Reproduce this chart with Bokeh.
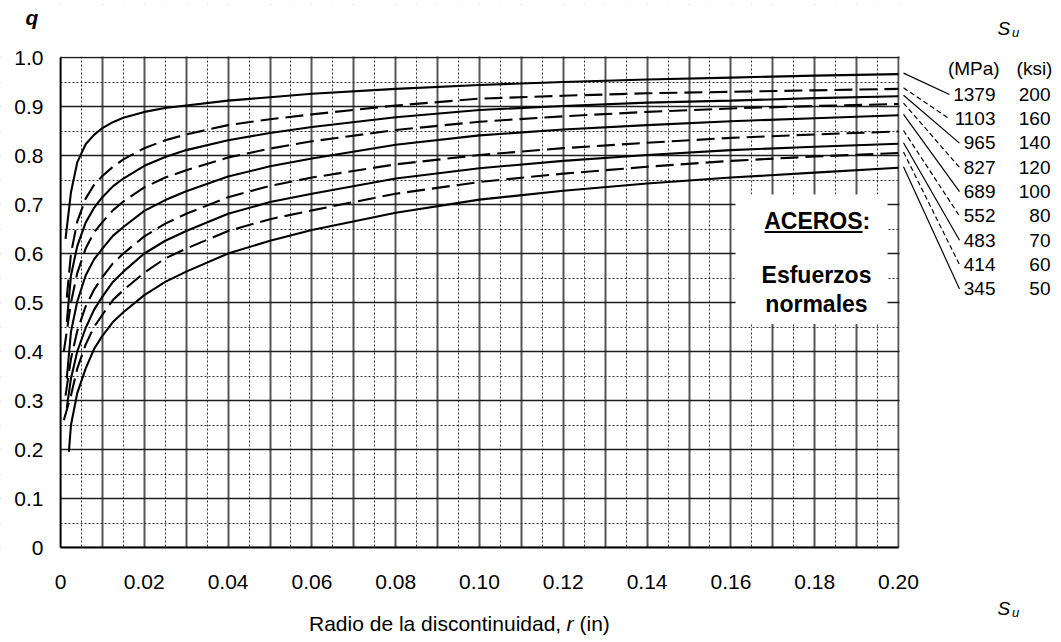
from bokeh.plotting import figure
from bokeh.models import FixedTicker, BoxAnnotation, Label, Arrow
from bokeh.embed import file_html
from bokeh.resources import INLINE

# ---------------- data ----------------
r_pts = [0.0025, 0.004, 0.006, 0.008, 0.01, 0.0125, 0.015, 0.02, 0.025, 0.03,
         0.04, 0.05, 0.06, 0.08, 0.10, 0.12, 0.14, 0.16, 0.18, 0.20]

su_mpa = ["1379", "1103", "965", "827", "689", "552", "483", "414", "345"]
su_ksi = ["200", "160", "140", "120", "100", "80", "70", "60", "50"]
dashed = [False, True, False, True, False, True, False, True, False]

r_start = [0.0012, 0.0015, 0.0015, 0.0008, 0.0015, 0.0012, 0.0015, 0.0008, 0.002]
q_start = [0.63, 0.51, 0.46, 0.40, 0.345, 0.31, 0.285, 0.26, 0.195]

q_200 = [0.725, 0.786, 0.823, 0.842, 0.856, 0.868, 0.877, 0.889, 0.897, 0.902,
         0.912, 0.919, 0.926, 0.936, 0.944, 0.950, 0.955, 0.959, 0.963, 0.966]
q_160 = [0.600, 0.665, 0.712, 0.740, 0.758, 0.777, 0.792, 0.815, 0.831, 0.843,
         0.862, 0.874, 0.884, 0.902, 0.916, 0.922, 0.927, 0.930, 0.933, 0.936]
q_140 = [0.555, 0.615, 0.663, 0.693, 0.715, 0.737, 0.753, 0.779, 0.797, 0.811,
         0.831, 0.846, 0.858, 0.878, 0.893, 0.901, 0.908, 0.912, 0.917, 0.921]
q_120 = [0.500, 0.560, 0.610, 0.643, 0.664, 0.688, 0.706, 0.735, 0.755, 0.770,
         0.796, 0.814, 0.829, 0.852, 0.869, 0.880, 0.889, 0.896, 0.901, 0.905]
q_100 = [0.440, 0.502, 0.555, 0.588, 0.610, 0.636, 0.654, 0.687, 0.709, 0.727,
         0.757, 0.778, 0.794, 0.822, 0.841, 0.853, 0.862, 0.870, 0.876, 0.882]
q_80 = [0.385, 0.442, 0.492, 0.526, 0.552, 0.580, 0.600, 0.635, 0.661, 0.681,
        0.715, 0.738, 0.755, 0.782, 0.801, 0.815, 0.826, 0.836, 0.843, 0.849]
q_70 = [0.345, 0.400, 0.448, 0.485, 0.512, 0.542, 0.563, 0.600, 0.626, 0.646,
        0.681, 0.705, 0.722, 0.753, 0.774, 0.789, 0.801, 0.811, 0.818, 0.824]
q_60 = [0.310, 0.365, 0.414, 0.450, 0.475, 0.505, 0.525, 0.561, 0.590, 0.610,
        0.646, 0.670, 0.688, 0.722, 0.746, 0.763, 0.777, 0.789, 0.798, 0.805]
q_50 = [0.250, 0.315, 0.365, 0.405, 0.432, 0.460, 0.480, 0.515, 0.542, 0.563,
        0.600, 0.626, 0.648, 0.683, 0.710, 0.728, 0.743, 0.755, 0.765, 0.775]
q_series = [q_200, q_160, q_140, q_120, q_100, q_80, q_70, q_60, q_50]

x_ticks = [0, 0.02, 0.04, 0.06, 0.08, 0.10, 0.12, 0.14, 0.16, 0.18, 0.20]
x_labels = ["0", "0.02", "0.04", "0.06", "0.08", "0.10", "0.12", "0.14", "0.16", "0.18", "0.20"]
y_ticks = [0, 0.1, 0.2, 0.3, 0.4, 0.5, 0.6, 0.7, 0.8, 0.9, 1.0]
y_labels = ["0", "0.1", "0.2", "0.3", "0.4", "0.5", "0.6", "0.7", "0.8", "0.9", "1.0"]

# ---------------- layout helpers ----------------
FONT = "Liberation Sans"
W, H = 1061, 642
TOP = 4                                     # thin white border above the frame
FL, FR, FT, FB = 60.0, 898.0, 57.0, 547.0   # chart area on the canvas (px)


def dx(px):
    return (px - FL) * 0.2 / (FR - FL)


def dy(py):
    return (FB - py) / (FB - FT)


# the frame fills (almost) the whole canvas; the chart area is carved out of it
p = figure(width=W, height=H, min_border=0,
           min_border_left=0, min_border_right=0, min_border_top=TOP, min_border_bottom=0,
           x_range=(dx(0), dx(W)), y_range=(dy(H), dy(TOP)),
           output_backend="svg", toolbar_location=None,
           background_fill_color="white", border_fill_color="white")
p.outline_line_color = None

# axes, fixed at r = 0 and q = 0
p.xaxis.ticker = FixedTicker(ticks=x_ticks)
p.xaxis.major_label_overrides = dict(zip(x_ticks, x_labels))
p.yaxis.ticker = FixedTicker(ticks=y_ticks)
p.yaxis.major_label_overrides = dict(zip(y_ticks, y_labels))
p.xaxis.fixed_location = 0
p.yaxis.fixed_location = 0
p.xaxis.bounds = (0, 0.2)
p.yaxis.bounds = (0, 1)
for ax in (p.xaxis[0], p.yaxis[0]):
    ax.major_tick_line_color = None
    ax.minor_tick_line_color = None
    ax.major_tick_out = 0
    ax.major_tick_in = 0
    ax.minor_tick_out = 0
    ax.minor_tick_in = 0
    ax.major_label_text_font = FONT
    ax.major_label_text_font_size = "21px"
    ax.major_label_text_color = "black"
    ax.axis_line_color = "black"
    ax.axis_line_width = 1.8
p.xaxis.major_label_standoff = 27
p.yaxis.major_label_standoff = 17

# grid
p.xgrid.ticker = FixedTicker(ticks=[i / 100 for i in range(21)],
                             minor_ticks=[(2 * i + 1) / 200 for i in range(20)])
p.ygrid.ticker = FixedTicker(ticks=[i / 10 for i in range(11)],
                             minor_ticks=[(2 * i + 1) / 20 for i in range(10)])
p.xgrid.grid_line_color = "#555555"
p.xgrid.grid_line_width = 2
p.ygrid.grid_line_color = "#1e1e1e"
p.ygrid.grid_line_width = 1.6
for g in (p.xgrid[0], p.ygrid[0]):
    g.grid_line_alpha = 1
    g.minor_grid_line_color = "#333333"
    g.minor_grid_line_width = 1
    g.minor_grid_line_dash = "2 2"

# white masks that limit the grid to the chart area
mask = dict(fill_color="white", fill_alpha=1.0, line_color=None, level="underlay")
OUT = 60
p.add_layout(BoxAnnotation(left=dx(-OUT), right=dx(FL), bottom=dy(H + OUT), top=dy(-OUT), **mask))
p.add_layout(BoxAnnotation(left=dx(FR + 1.1), right=dx(W + OUT), bottom=dy(H + OUT), top=dy(-OUT), **mask))
p.add_layout(BoxAnnotation(left=dx(-OUT), right=dx(W + OUT), bottom=dy(FT - 0.9), top=dy(-OUT), **mask))
p.add_layout(BoxAnnotation(left=dx(-OUT), right=dx(W + OUT), bottom=dy(H + OUT), top=dy(FB), **mask))
# white box behind the legend text
p.add_layout(BoxAnnotation(left=dx(735), right=dx(887), bottom=dy(323.5), top=dy(194), **mask))

# curves
for rs, qs, qv, dsh in zip(r_start, q_start, q_series, dashed):
    p.line([rs] + r_pts, [qs] + qv, line_color="black", line_width=2.1,
           line_dash="18 7" if dsh else "solid")


def lab(px, base, text, size, style="normal", align="left"):
    # base = baseline position on the canvas; text is centred on its em box
    p.add_layout(Label(x=dx(px), y=dy(base - 0.35 * size), text=text, text_font=FONT,
                       text_font_size=f"{size}px", text_font_style=style,
                       text_align=align, text_baseline="middle", text_color="black"))


lab(816.7, 228.3, "ACEROS:", 23, "bold", "center")
p.add_layout(Arrow(x_start=dx(764), y_start=dy(231.5), x_end=dx(862), y_end=dy(231.5),
                   end=None, line_color="black", line_width=2))
lab(816.0, 282.5, "Esfuerzos", 23, "bold", "center")
lab(816.0, 311.7, "normales", 23, "bold", "center")

# q label (horizontal position given in screen pixels)
p.add_layout(Label(x=31.5, x_units="screen", y=dy(24 - 0.35 * 21), text="q",
                   text_font=FONT, text_font_size="21px", text_font_style="bold italic",
                   text_align="center", text_baseline="middle", text_color="black"))

# x axis title
lab(308.5, 630, "Radio de la discontinuidad,", 21)
lab(566, 630, "r", 21, "italic")
lab(579, 630, "(in)", 21)

# S_u headers
lab(997, 35, "S", 19, "italic")
lab(1011.5, 37, "u", 13, "italic")
lab(997, 615, "S", 19, "italic")
lab(1011.5, 617, "u", 13, "italic")
lab(973.3, 75, "(MPa)", 19, "normal", "center")
lab(1034, 75, "(ksi)", 19, "normal", "center")

# leader lines and strength labels
for i, (mpa, ksi, qv, dsh) in enumerate(zip(su_mpa, su_ksi, q_series, dashed)):
    base = 100.5 + 24.3 * i
    lab(995, base, mpa, 19, "normal", "right")
    lab(1050, base, ksi, 19, "normal", "right")
    y0 = FB - (FB - FT) * qv[-1] - 1
    x1 = 949 if len(mpa) == 4 else 959
    p.add_layout(Arrow(x_start=dx(903), y_start=dy(y0), x_end=dx(x1), y_end=dy(base - 6.5),
                       end=None, line_color="black", line_width=1.2,
                       line_dash="5 3" if dsh else "solid"))

open("out.html", "w").write(file_html(p, INLINE))
